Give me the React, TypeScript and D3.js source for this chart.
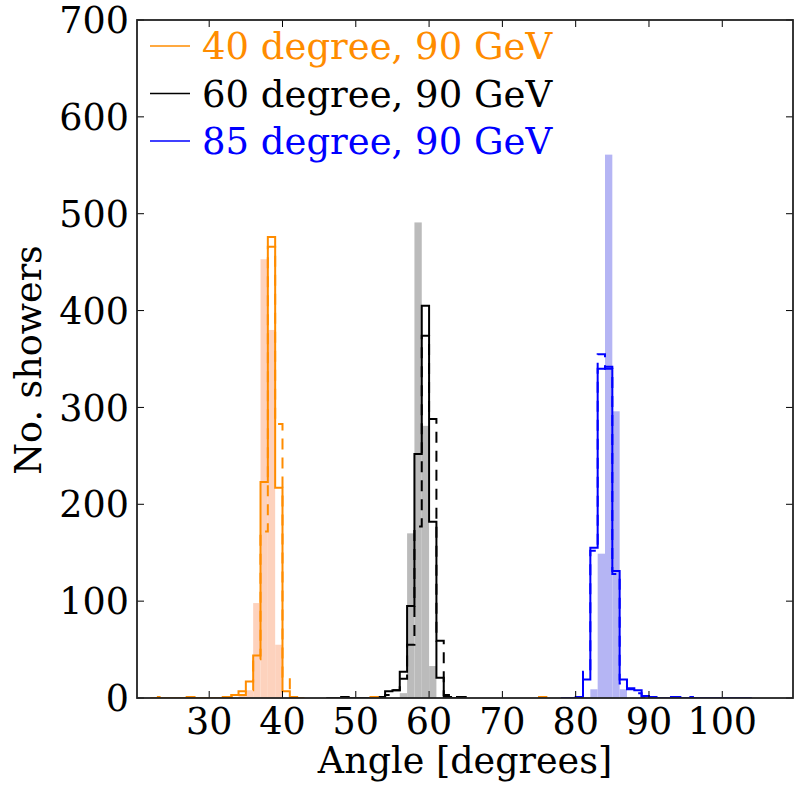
import React from "react";
import * as d3 from "d3";

// ---- data (bin left edges start at *Start, bin width 1 degree) ----
const legendLabels = ["40 degree, 90 GeV", "60 degree, 90 GeV", "85 degree, 90 GeV"];
const xTicks = [30, 40, 50, 60, 70, 80, 90, 100];
const yTicks = [0, 100, 200, 300, 400, 500, 600, 700];

const orangeStart = 22;
const orangeSolid = [0, 0, 0, 0, 0, 0, 0, 0, 0, 0, 1, 3, 7, 17, 44, 223, 476, 217, 7, 0, 0];
const orangeDashed = [0, 1, 0, 0, 1, 1, 0, 0, 0, 1, 1, 1, 3, 8, 40, 172, 466, 283, 22, 1, 0];
const orangeFill = [0, 0, 0, 0, 0, 0, 0, 0, 0, 0, 0, 0, 2, 8, 98, 453, 380, 55, 0, 0, 0];

const blackStart = 46;
const blackSolid = [0, 0, 1, 0, 0, 0, 0, 1, 7, 8, 27, 95, 252, 405, 182, 21, 1, 0, 0];
const blackDashed = [0, 0, 1, 0, 0, 0, 0, 1, 3, 8, 20, 55, 177, 374, 288, 59, 3, 1, 1];
const blackFill = [0, 0, 0, 0, 0, 0, 0, 0, 0, 0, 5, 170, 491, 281, 33, 0, 0, 0, 0];

const orangeExtraStart = 52;
const orangeExtra = [1, 0];
const orangeExtra2Start = 75;
const orangeExtra2 = [1];

const blueStart = 78;
const blueSolid = [0, 0, 1, 19, 155, 340, 342, 131, 19, 10, 8, 2, 1, 0, 0, 0, 0, 0, 0, 0, 0, 0, 0, 0, 0, 0];
const blueDashed = [0, 0, 1, 27, 152, 355, 340, 128, 15, 9, 5, 1, 1, 0, 0, 1, 1, 1, 0, 0, 0, 0, 0, 0, 1, 0];
const blueFill = [0, 0, 0, 0, 9, 149, 561, 296, 9, 0, 0, 0, 0, 0, 0, 0, 0, 0, 0, 0, 0, 0, 0, 0, 0, 0];

const W = 794;
const H = 785;
const FONT = "'DejaVu Serif', serif";

export default function App() {
  const x = d3.scaleLinear().domain([20.15, 109.65]).range([137, 793]);
  const y = d3.scaleLinear().domain([0, 700]).range([698, 20]);

  const stepLine = d3
    .line<[number, number]>()
    .x((d) => x(d[0]))
    .y((d) => y(d[1]))
    .curve(d3.curveStepAfter);

  const stepPts = (start: number, vals: number[]): [number, number][] => {
    const pts: [number, number][] = [[start, 0]];
    vals.forEach((v, i) => pts.push([start + i, v]));
    pts.push([start + vals.length, 0]);
    return pts;
  };

  const fills = (start: number, vals: number[], color: string, key: string) =>
    vals.map((v, i) =>
      v > 0 ? (
        <rect
          key={key + i}
          x={x(start + i)}
          y={y(v)}
          width={x(start + i + 1) - x(start + i)}
          height={y(0) - y(v)}
          fill={color}
        />
      ) : null
    );

  const orange = "#ff8c00";
  const blue = "#0000ff";
  const black = "#000000";
  const dash = "11,8";
  const lw = 2;

  const series = [
    { start: orangeStart, solid: orangeSolid, dashed: orangeDashed, color: orange },
    { start: blackStart, solid: blackSolid, dashed: blackDashed, color: black },
    { start: blueStart, solid: blueSolid, dashed: blueDashed, color: blue },
  ];

  const legendColors = [orange, black, blue];

  return (
    <svg width={W} height={H} style={{ position: "absolute", left: 0, top: 0 }}>
      <rect x={0} y={0} width={W} height={H} fill="#fff" />
      <defs>
        <clipPath id="plot">
          <rect x={137} y={20} width={656} height={678} />
        </clipPath>
      </defs>
      <g clipPath="url(#plot)">
        {fills(orangeStart, orangeFill, "#fdd2bd", "of")}
        {fills(blackStart, blackFill, "#bbbbbb", "bf")}
        {fills(blueStart, blueFill, "#b5b5f4", "uf")}
        {series.map((s, i) => (
          <g key={"s" + i}>
            <path d={stepLine(stepPts(s.start, s.dashed)) || ""} fill="none" stroke={s.color} strokeWidth={lw} strokeDasharray={dash} />
            <path d={stepLine(stepPts(s.start, s.solid)) || ""} fill="none" stroke={s.color} strokeWidth={lw} />
          </g>
        ))}
        <path d={stepLine(stepPts(orangeExtraStart, orangeExtra)) || ""} fill="none" stroke={orange} strokeWidth={lw} strokeDasharray={dash} />
        <path d={stepLine(stepPts(orangeExtra2Start, orangeExtra2)) || ""} fill="none" stroke={orange} strokeWidth={lw} strokeDasharray={dash} />
      </g>

      {/* ticks */}
      {xTicks.map((t) => (
        <g key={"xt" + t}>
          <line x1={x(t)} x2={x(t)} y1={698} y2={691} stroke="#000" strokeWidth={1} />
          <line x1={x(t)} x2={x(t)} y1={20} y2={27} stroke="#000" strokeWidth={1} />
          <text x={x(t)} y={734} textAnchor="middle" fontFamily={FONT} fontSize={36.5} fill="#000">
            {t}
          </text>
        </g>
      ))}
      {yTicks.map((t) => (
        <g key={"yt" + t}>
          <line x1={137} x2={144} y1={y(t)} y2={y(t)} stroke="#000" strokeWidth={1} />
          <line x1={793} x2={786} y1={y(t)} y2={y(t)} stroke="#000" strokeWidth={1} />
          <text x={129} y={y(t)} dy="0.36em" textAnchor="end" fontFamily={FONT} fontSize={36.5} fill="#000">
            {t}
          </text>
        </g>
      ))}

      {/* frame */}
      <rect x={137} y={20} width={656} height={678} fill="none" stroke="#222" strokeWidth={1.8} />

      {/* axis labels */}
      <text x={465} y={773} textAnchor="middle" fontFamily={FONT} fontSize={36.5} fill="#000">
        Angle [degrees]
      </text>
      <text
        transform={`translate(41, ${360}) rotate(-90)`}
        textAnchor="middle"
        fontFamily={FONT}
        fontSize={36.5}
        fill="#000"
      >
        No. showers
      </text>

      {/* legend */}
      {legendLabels.map((l, i) => (
        <g key={"lg" + i}>
          <line x1={150} x2={190} y1={46 + i * 47.5} y2={46 + i * 47.5} stroke={legendColors[i]} strokeWidth={1.5} />
          <text x={202} y={46 + i * 47.5} dy="0.36em" fontFamily={FONT} fontSize={37} fill={legendColors[i]}>
            {l}
          </text>
        </g>
      ))}
    </svg>
  );
}
